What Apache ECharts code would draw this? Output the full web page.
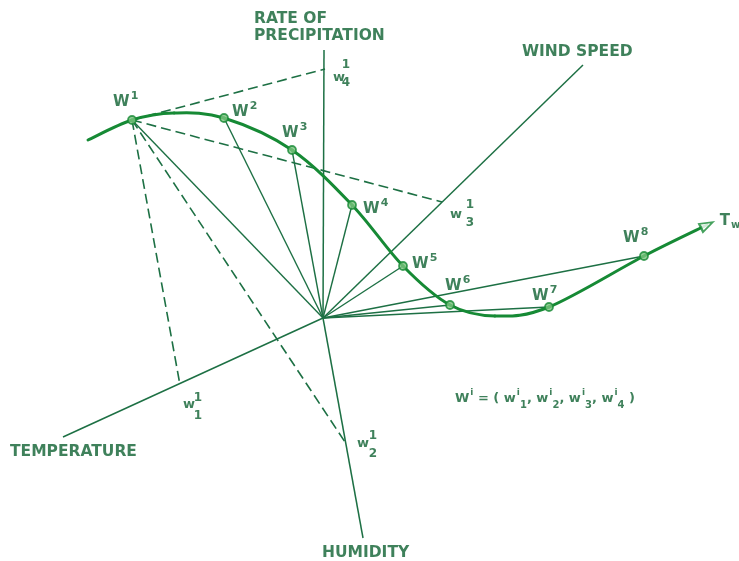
<!DOCTYPE html>
<html>
<head>
<meta charset="utf-8">
<script src="https://cdn.jsdelivr.net/npm/echarts@6/dist/echarts.min.js"></script>
<style>html,body{margin:0;padding:0;background:#fff}#c{width:739px;height:561px}</style>
</head>
<body>
<div id="c"></div>
<script>
// ---- data (diagram coordinates) ----
const origin = [323, 318];
const axisNames = ['RATE OF\nPRECIPITATION', 'WIND SPEED', 'TEMPERATURE', 'HUMIDITY'];
const axisEndX = [324, 583, 63, 363];
const axisEndY = [50, 65, 437, 538];

const wNames = ['1', '2', '3', '4', '5', '6', '7', '8'];
const wX = [132, 224, 292, 352, 403, 450, 549, 644];
const wY = [120, 118, 150, 205, 266, 305, 307, 256];

const curveX = [88, 132, 174, 224, 292, 352, 403, 450, 495, 549, 644, 707];
const curveY = [140, 120, 113, 118, 150, 205, 266, 305, 316, 307, 256, 225];

const projSub = ['4', '3', '1', '2'];
const projSup = ['1', '1', '1', '1'];
const projX = [325, 442, 180, 345];
const projY = [69, 202, 385, 442];

const formulaText = ['W', 'i', ' = ( w', 'i', '1', ', w', 'i', '2', ', w', 'i', '3', ', w', 'i', '4', ' )'];
const formulaAnchor = [455, 399];
const endLabel = ['T', 'w'];

// ---- styles / label placement ----
const TXT = '#0f6232';
const LN = '#1d7044';
const CRV = '#168a35';
const FONT = 'DejaVu Sans';
const axisLabelOff = [[-70, -40], [-61, -13], [-53, 15], [-41, 15]];
const wLabelOff = [[-14, -13], [13, -1], [-5, -12], [16, 9], [14, 3], [0, -14], [-12, -6], [-16, -13]];
const projWOff = [[8, 9], [8, 13], [3, 20], [12, 2]];
const projIdxOff = [[21, 5], [28, 12], [18, 22], [28, 3]];

const series = [];
const seg = (a, b, dashed, w) => ({
  type: 'line', data: [a, b], symbol: 'none', silent: true, animation: false,
  lineStyle: { color: LN, width: w || 1.3, type: dashed ? [10, 5] : 'solid' }, z: 2
});
// coordinate axes
for (let i = 0; i < axisNames.length; i++) series.push(seg(origin, [axisEndX[i], axisEndY[i]], false, 1.5));
// spokes from origin to each W point
for (let i = 0; i < wX.length; i++) series.push(seg(origin, [wX[i], wY[i]], false, 1.4));
// dashed projection lines from W1
for (let i = 0; i < projX.length; i++) series.push(seg([wX[0], wY[0]], [projX[i], projY[i]], true, 1.6));
// smooth curve (Catmull-Rom through the curve points, mapped by the chart's scales)
series.push({
  type: 'custom', coordinateSystem: 'cartesian2d', z: 5, silent: true,
  data: curveX.map((x, i) => [x, curveY[i]]),
  renderItem: (params, api) => {
    if (params.dataIndex !== 0) return null;
    const P = curveX.map((x, i) => api.coord([x, curveY[i]]));
    const kids = [];
    for (let i = 0; i < P.length - 1; i++) {
      const p0 = P[i - 1] || P[i], p1 = P[i], p2 = P[i + 1], p3 = P[i + 2] || P[i + 1];
      kids.push({
        type: 'bezierCurve',
        shape: {
          x1: p1[0], y1: p1[1], x2: p2[0], y2: p2[1],
          cpx1: p1[0] + (p2[0] - p0[0]) / 6, cpy1: p1[1] + (p2[1] - p0[1]) / 6,
          cpx2: p2[0] - (p3[0] - p1[0]) / 6, cpy2: p2[1] - (p3[1] - p1[1]) / 6
        },
        style: { fill: null, stroke: CRV, lineWidth: 3, lineCap: 'round' }
      });
    }
    return { type: 'group', children: kids };
  }
});
// arrowhead
const n = curveX.length;
const ang = Math.atan2(-(curveY[n - 1] - curveY[n - 2]), curveX[n - 1] - curveX[n - 2]) * 180 / Math.PI;
series.push({
  type: 'scatter', data: [[curveX[n - 1], curveY[n - 1]]], symbol: 'triangle', symbolSize: [9, 13],
  symbolRotate: ang - 90, itemStyle: { color: '#fff', borderColor: CRV, borderWidth: 2 }, z: 7,
  label: {
    show: true, position: [22, 4], align: 'left', verticalAlign: 'middle',
    formatter: '{m|' + endLabel[0] + '}{b|' + endLabel[1] + '}',
    rich: { m: { fontFamily: FONT, fontWeight: 'bold', fontSize: 15, color: TXT },
            b: { fontFamily: FONT, fontWeight: 'bold', fontSize: 10, color: TXT, padding: [9, 0, 0, 1] } }
  }
});
// W points
series.push({
  type: 'scatter', data: wX.map((x, i) => ({
    value: [x, wY[i]],
    label: { position: wLabelOff[i] }
  })),
  symbol: 'circle', symbolSize: 8, z: 8,
  itemStyle: { color: '#7cc47f', borderColor: CRV, borderWidth: 1.8 },
  label: {
    show: true, align: 'left', verticalAlign: 'middle',
    formatter: p => '{m|W}{s|' + wNames[p.dataIndex] + '}',
    rich: { m: { fontFamily: FONT, fontWeight: 'bold', fontSize: 15, color: TXT },
            s: { fontFamily: FONT, fontWeight: 'bold', fontSize: 11, color: TXT, padding: [0, 0, 12, 1] } }
  }
});
// axis name labels
const axisData = axisNames.map((nm, i) => ({ value: [axisEndX[i], axisEndY[i]], name: nm,
  label: { position: axisLabelOff[i], verticalAlign: i === 0 ? 'top' : 'middle' } }));
series.push({
  type: 'scatter', symbolSize: 0, z: 9, data: axisData,
  label: {
    show: true, align: 'left', formatter: p => p.name,
    fontFamily: FONT, fontWeight: 'bold', fontSize: 15.5, color: TXT, lineHeight: 17
  }
});
// projection labels: "w"
series.push({
  type: 'scatter', symbolSize: 0, z: 9,
  data: projX.map((x, i) => ({ value: [x, projY[i]], label: { position: projWOff[i] } })),
  label: { show: true, align: 'left', verticalAlign: 'middle', formatter: 'w',
    fontFamily: FONT, fontWeight: 'bold', fontSize: 13, color: TXT }
});
// projection labels: stacked super/sub indices
series.push({
  type: 'scatter', symbolSize: 0, z: 9,
  data: projX.map((x, i) => ({ value: [x, projY[i]], label: { position: projIdxOff[i] } })),
  label: { show: true, align: 'center', verticalAlign: 'middle',
    formatter: p => projSup[p.dataIndex] + '\n' + projSub[p.dataIndex],
    fontFamily: FONT, fontWeight: 'bold', fontSize: 12, lineHeight: 18, color: TXT }
});
// formula
const styleOf = k => (k === 1 ? 's' : k === 2 ? 'b' : 'm');
const kinds = [0, 1, 0, 1, 2, 0, 1, 2, 0, 1, 2, 0, 1, 2, 0];
series.push({
  type: 'scatter', symbolSize: 0, z: 9, data: [formulaAnchor],
  label: {
    show: true, position: [0, 0], align: 'left', verticalAlign: 'middle',
    formatter: formulaText.map((t, i) => '{' + styleOf(kinds[i]) + '|' + t + '}').join(''),
    rich: {
      m: { fontFamily: FONT, fontWeight: 'bold', fontSize: 13, color: TXT },
      s: { fontFamily: FONT, fontWeight: 'bold', fontSize: 9, color: TXT, padding: [0, 0, 12, 1] },
      b: { fontFamily: FONT, fontWeight: 'bold', fontSize: 10, color: TXT, padding: [12, 0, 0, 0] }
    }
  }
});

const chart = echarts.init(document.getElementById('c'), null, { renderer: 'canvas' });
chart.setOption({
  animation: false,
  backgroundColor: '#ffffff',
  grid: { left: 0, right: 0, top: 0, bottom: 0 },
  xAxis: { type: 'value', min: 0, max: 739, show: false },
  yAxis: { type: 'value', min: 0, max: 561, inverse: true, show: false },
  series: series
});
</script>
</body>
</html>
